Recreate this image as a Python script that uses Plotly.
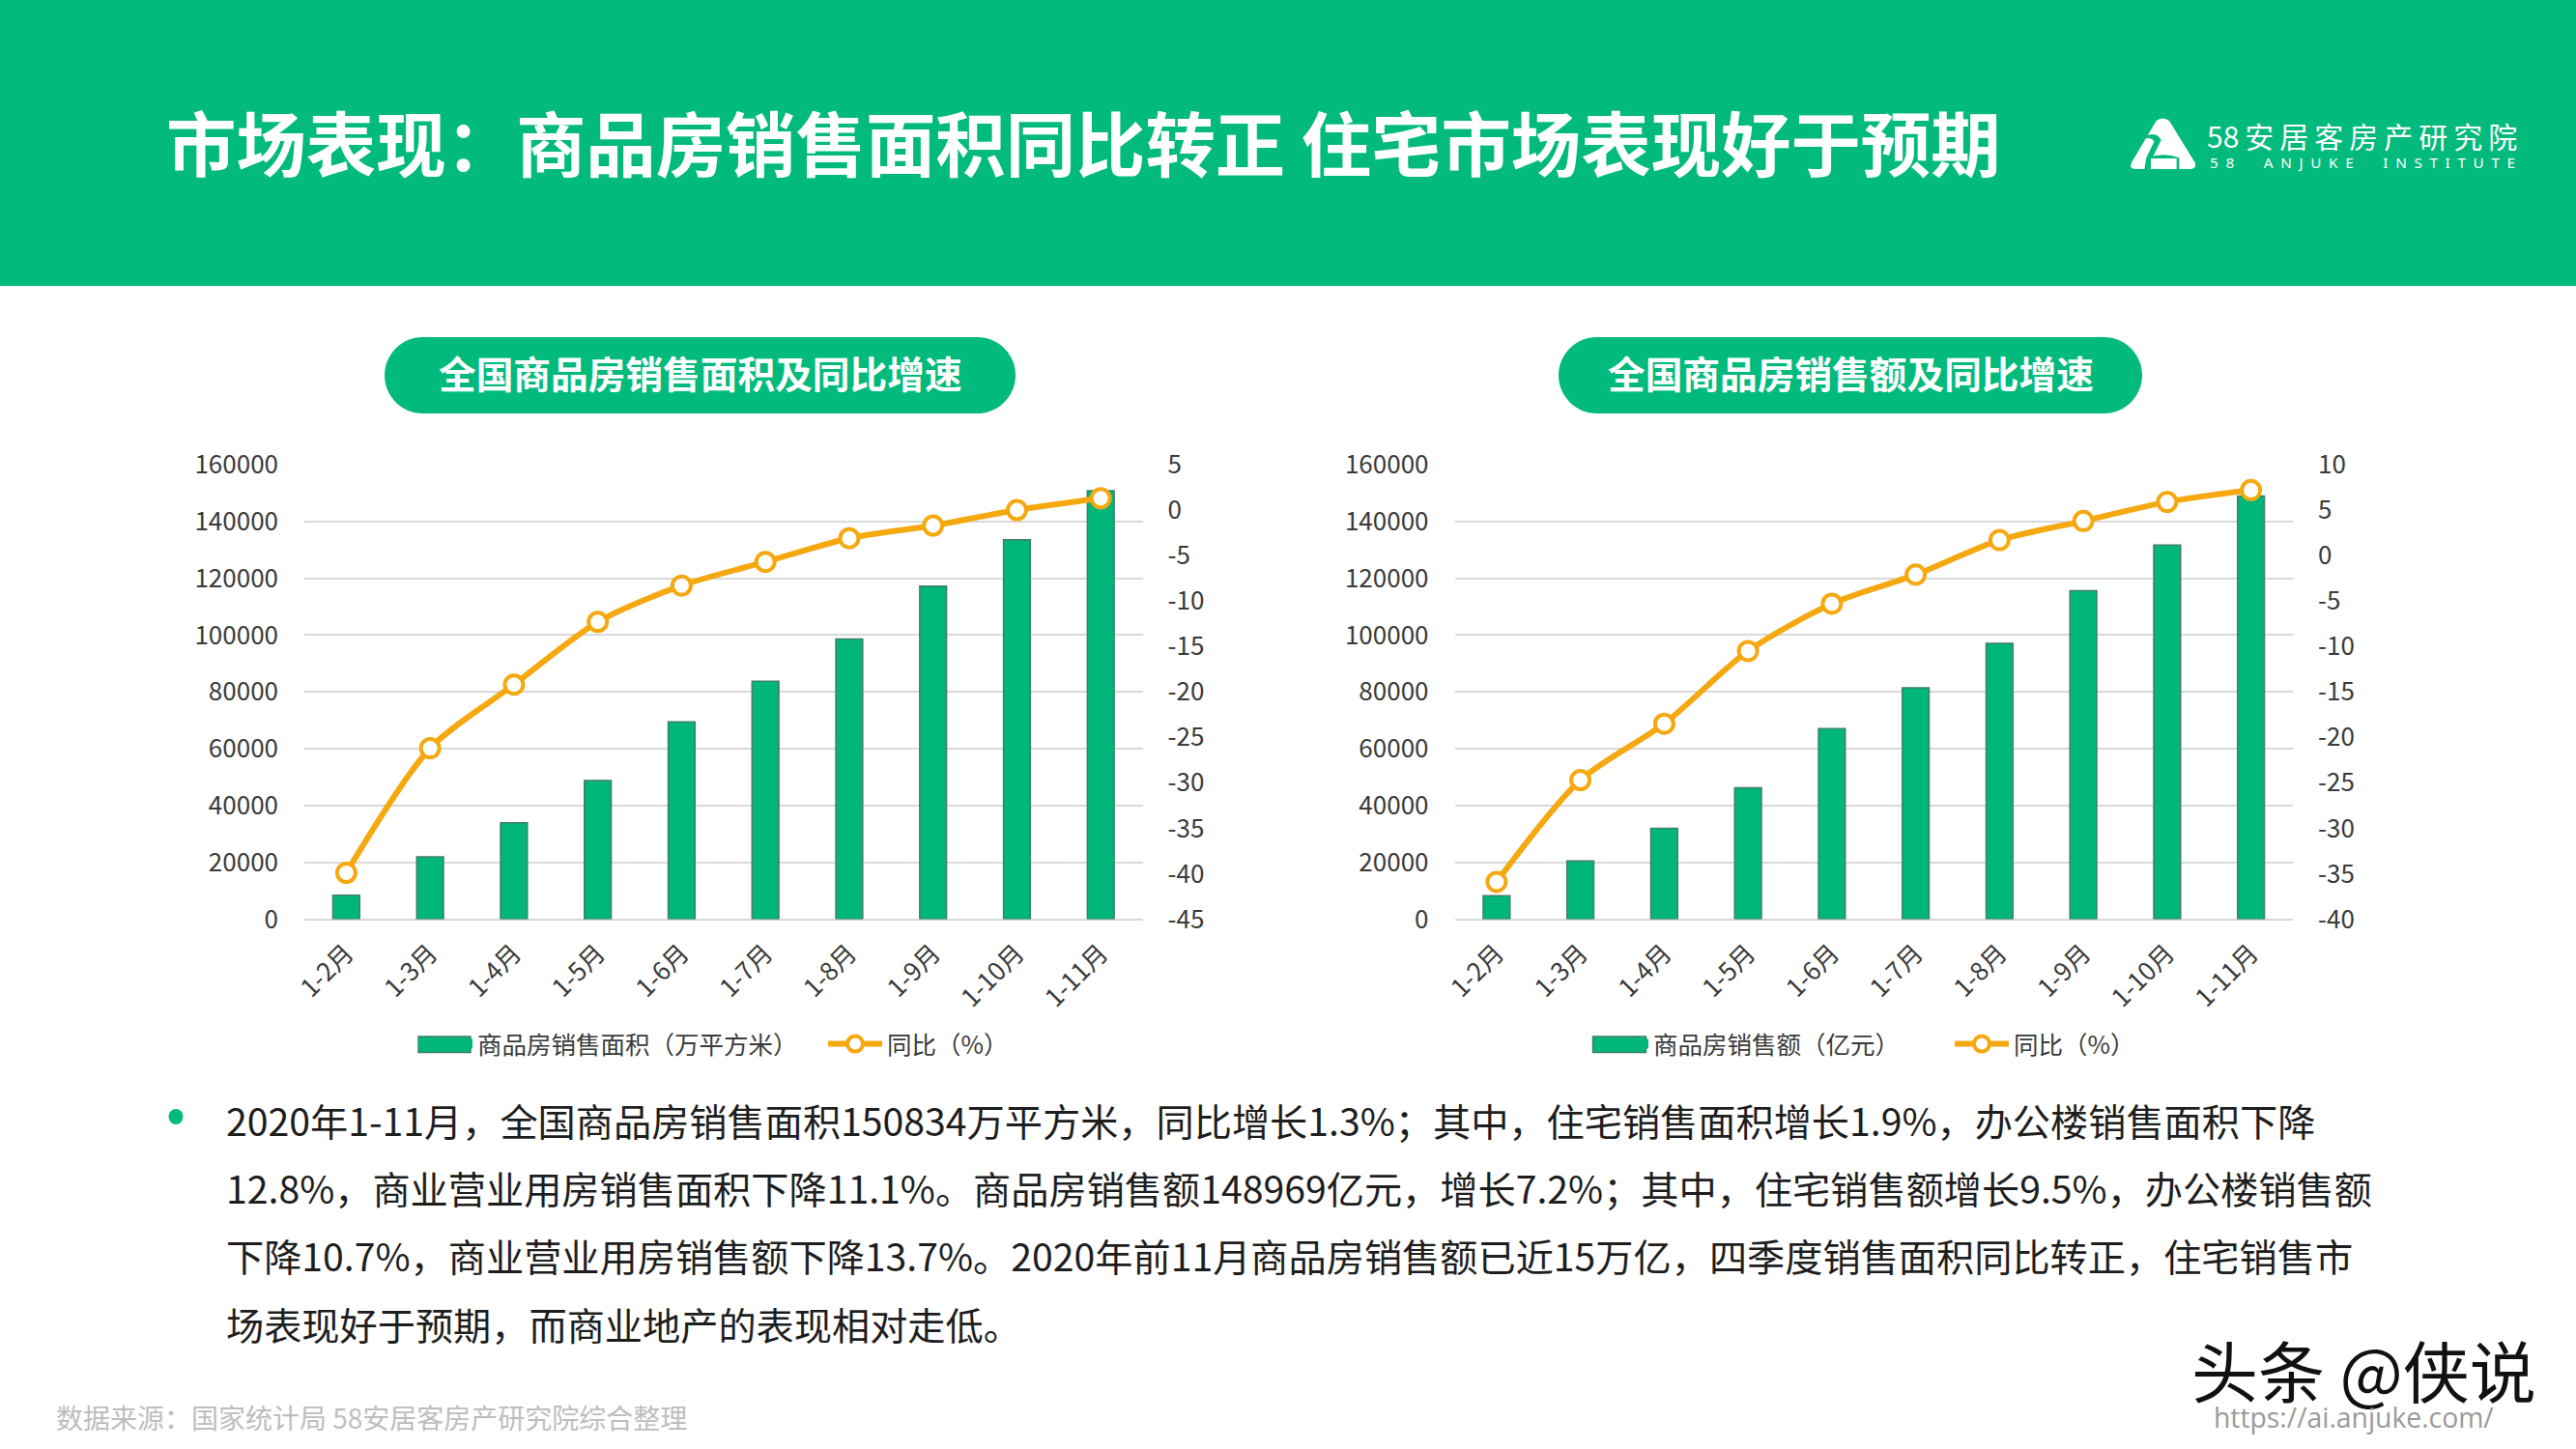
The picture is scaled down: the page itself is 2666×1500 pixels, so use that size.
import plotly.graph_objects as go

W, H = 2666, 1500
CJK = "Noto Sans CJK SC"
GREEN = "#02BA7C"
BAR = "#00B67A"
BAR_EDGE = "#3F7F6B"
ORANGE = "#F5A80F"
GRID = "#D9D9D9"
TXT = "#3A3A3A"

months = ["1-2月", "1-3月", "1-4月", "1-5月", "1-6月", "1-7月", "1-8月", "1-9月", "1-10月", "1-11月"]
area_values = [8400, 21950, 33900, 48800, 69450, 83750, 98650, 117250, 133600, 150834]
area_yoy = [-39.9, -26.2, -19.2, -12.3, -8.3, -5.7, -3.1, -1.7, 0.0, 1.3]
sales_values = [8250, 20500, 32000, 46250, 67050, 81450, 97100, 115650, 131700, 148969]
sales_yoy = [-35.9, -24.7, -18.5, -10.5, -5.3, -2.1, 1.7, 3.8, 5.9, 7.2]
area_yoy_ticks = [5, 0, -5, -10, -15, -20, -25, -30, -35, -40, -45]
sales_yoy_ticks = [10, 5, 0, -5, -10, -15, -20, -25, -30, -35, -40]

title_text = "市场表现：商品房销售面积同比转正 住宅市场表现好于预期"
pill_left = "全国商品房销售面积及同比增速"
pill_right = "全国商品房销售额及同比增速"
logo_cn = "58\u2009安\u2009居\u2009客\u2009房\u2009产\u2009研\u2009究\u2009院"
logo_en = "5\u20028\u2002\u2002\u2002\u2002A\u2002N\u2002J\u2002U\u2002K\u2002E\u2002\u2002\u2002\u2002I\u2002N\u2002S\u2002T\u2002I\u2002T\u2002U\u2002T\u2002E"
body_lines = [
    "2020年1-11月，全国商品房销售面积150834万平方米，同比增长1.3%；其中，住宅销售面积增长1.9%，办公楼销售面积下降",
    "12.8%，商业营业用房销售面积下降11.1%。商品房销售额148969亿元，增长7.2%；其中，住宅销售额增长9.5%，办公楼销售额",
    "下降10.7%，商业营业用房销售额下降13.7%。2020年前11月商品房销售额已近15万亿，四季度销售面积同比转正，住宅销售市",
    "场表现好于预期，而商业地产的表现相对走低。",
]
source_text = "数据来源：国家统计局 58安居客房产研究院综合整理"


def px(x):
    return x / W


def py(y):
    return 1 - y / H


fig = go.Figure()


def add_panel(vals, yoy, bar_name, xa, ya, ya2, legend):
    fig.add_trace(go.Bar(x=months, y=vals, name=bar_name, xaxis=xa, yaxis=ya, width=0.32,
                         marker=dict(color=BAR, line=dict(color=BAR_EDGE, width=1.5)),
                         showlegend=False))
    fig.add_trace(go.Scatter(x=[None], y=[None], name=bar_name, xaxis=xa, yaxis=ya, mode="lines",
                             line=dict(color=BAR, width=14), legend=legend))
    fig.add_trace(go.Scatter(x=months, y=yoy, name="同比（%）", xaxis=xa, yaxis=ya2, mode="lines+markers",
                             line=dict(color=ORANGE, width=6, shape="spline", smoothing=0.8),
                             marker=dict(color="white", size=19, line=dict(color=ORANGE, width=4)),
                             legend=legend))


add_panel(area_values, area_yoy, "商品房销售面积（万平方米）", "x", "y", "y2", "legend")
add_panel(sales_values, sales_yoy, "商品房销售额（亿元）", "x2", "y3", "y4", "legend2")

tick_font = dict(family=CJK, size=26, color=TXT)
ydom = [py(951.5), py(481)]


def xaxis(x0, x1, anchor):
    return dict(domain=[px(x0), px(x1)], anchor=anchor, type="category", range=[-0.5, 9.5],
                tickangle=-45, tickfont=tick_font, showgrid=False, showline=False, zeroline=False,
                ticks="", ticklabelstandoff=14, categoryorder="array", categoryarray=months)


def yleft(anchor):
    return dict(domain=ydom, anchor=anchor, range=[0, 160000], dtick=20000, tickformat="d",
                tickfont=tick_font, gridcolor=GRID, gridwidth=2, zeroline=True, zerolinecolor=GRID,
                zerolinewidth=2, showline=False, ticks="", ticklabelstandoff=26)


def yright(anchor, over, ticks):
    return dict(domain=ydom, anchor=anchor, overlaying=over, side="right", range=[min(ticks), max(ticks)],
                tickmode="array", tickvals=ticks, ticktext=[str(t) for t in ticks],
                tickfont=tick_font, showgrid=False, zeroline=False, showline=False, ticks="",
                ticklabelstandoff=25)


def pill(x0, x1, y0, y1):
    r = (y1 - y0) / 2
    k = r * 0.55
    pts = (f"M{px(x0+r)},{py(y0)} L{px(x1-r)},{py(y0)} "
           f"C{px(x1-r+k)},{py(y0)} {px(x1)},{py(y0+r-k)} {px(x1)},{py(y0+r)} "
           f"C{px(x1)},{py(y0+r+k)} {px(x1-r+k)},{py(y1)} {px(x1-r)},{py(y1)} "
           f"L{px(x0+r)},{py(y1)} "
           f"C{px(x0+r-k)},{py(y1)} {px(x0)},{py(y0+r+k)} {px(x0)},{py(y0+r)} "
           f"C{px(x0)},{py(y0+r-k)} {px(x0+r-k)},{py(y0)} {px(x0+r)},{py(y0)} Z")
    return dict(type="path", xref="paper", yref="paper", path=pts, fillcolor=GREEN, line=dict(width=0), layer="below")


def logo_pt(zx, zy):
    return f"{px(2190 + zx / 3)},{py(100 + zy / 3)}"


def logo_path(cmds, color):
    d = " ".join(c + " ".join(logo_pt(a, b) for a, b in pts) for c, pts in cmds) + " Z"
    return dict(type="path", xref="paper", yref="paper", path=d, fillcolor=color, line=dict(width=0), layer="above")


def swatch(x0, x1):
    return dict(type="rect", xref="paper", yref="paper", x0=px(x0), x1=px(x1), y0=py(1089.5), y1=py(1073),
                fillcolor=BAR, line=dict(color=BAR_EDGE, width=1.5), layer="above")


shapes = [
    dict(type="rect", xref="paper", yref="paper", x0=0, x1=1, y0=py(296), y1=1, fillcolor=GREEN, line=dict(width=0), layer="below"),
    pill(398, 1051, 349, 428),
    pill(1613, 2217, 349, 428),
    dict(type="circle", xref="paper", yref="paper", x0=px(174.5), x1=px(189.5), y0=py(1164), y1=py(1148), fillcolor=GREEN, line=dict(width=0)),
    logo_path([("M", [(125, 75)]), ("Q", [(145, 60), (165, 75)]), ("L", [(245, 205)]),
               ("Q", [(252, 225), (230, 225)]), ("L", [(60, 225)]), ("Q", [(38, 225), (48, 205)])], "white"),
    logo_path([("M", [(85, 125)]), ("Q", [(125, 105), (140, 135)]), ("L", [(112, 192)]), ("L", [(100, 225)]),
               ("L", [(88, 225)]), ("L", [(94, 190)]), ("L", [(118, 140)]), ("Q", [(110, 122), (80, 133)])], GREEN),
    logo_path([("M", [(100, 225)]), ("L", [(100, 190)]), ("Q", [(145, 172), (196, 190)]), ("L", [(196, 225)])], GREEN),
    logo_path([("M", [(108, 225)]), ("L", [(108, 192)]), ("L", [(188, 192)]), ("L", [(188, 225)])], "white"),
    swatch(433, 487),
    swatch(1648.5, 1703.5),
]


def note(text, x, y, size, color="#222222", anchor="left", weight=None, family=CJK):
    f = dict(family=family, size=size, color=color)
    if weight:
        f["weight"] = weight
    return dict(text=text, x=px(x), y=py(y), xref="paper", yref="paper", xanchor=anchor, yanchor="middle",
                showarrow=False, font=f, borderpad=0, borderwidth=0)


annots = [
    note(title_text, 172, 146, 72.4, "white", weight=700),
    note(logo_cn, 2284, 140, 30, "white"),
    note(logo_en, 2603, 168, 15.3, "white", anchor="right", family="Noto Sans"),
    note(pill_left, 724.5, 385, 38.7, "white", "center", 700),
    note(pill_right, 1915, 385, 38.7, "white", "center", 700),
    note(source_text, 58, 1467, 28, "#BDBDBD"),
    note("头条 @侠说", 2268, 1417, 69, "#111111"),
    note("https://ai.anjuke.com/", 2291, 1467, 28.3, "#9A9A9A", family="Open Sans"),
]
for line, yy in zip(body_lines, [1159, 1229, 1299, 1370]):
    annots.append(note(line, 234, yy, 39.2, "#1E1E1E"))

legend_font = dict(family=CJK, size=25.5, color=TXT)
fig.update_layout(
    width=W, height=H, margin=dict(l=0, r=0, t=0, b=0, autoexpand=False), autosize=False,
    paper_bgcolor="white", plot_bgcolor="white", barmode="overlay",
    font=dict(family=CJK),
    xaxis=xaxis(315, 1182.6, "y"),
    yaxis=yleft("x"),
    yaxis2=yright("x", "y", area_yoy_ticks),
    xaxis2=xaxis(1505.5, 2373, "y3"),
    yaxis3=yleft("x2"),
    yaxis4=yright("x2", "y3", sales_yoy_ticks),
    legend=dict(orientation="h", x=px(428), y=py(1081), xanchor="left", yanchor="middle",
                font=legend_font, itemwidth=56, bgcolor="rgba(0,0,0,0)", itemclick=False,
                entrywidth=353, entrywidthmode="pixels"),
    legend2=dict(orientation="h", x=px(1645), y=py(1081), xanchor="left", yanchor="middle",
                 font=legend_font, itemwidth=56, bgcolor="rgba(0,0,0,0)", itemclick=False,
                 entrywidth=302, entrywidthmode="pixels"),
    shapes=shapes, annotations=annots, hovermode=False,
)

fig.write_html("out.html", config={"displayModeBar": False}, post_script="document.body.style.margin='0';")
